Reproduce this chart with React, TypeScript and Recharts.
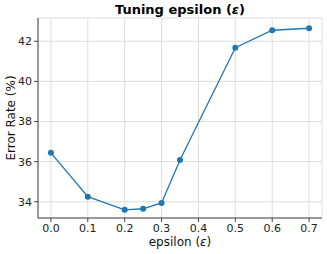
import { CartesianGrid, Label, Line, LineChart, XAxis, YAxis } from 'recharts';

const epsilons = [0.0, 0.1, 0.2, 0.25, 0.3, 0.35, 0.5, 0.6, 0.7];
const errorRates = [36.44, 34.25, 33.6, 33.65, 33.94, 36.08, 41.68, 42.55, 42.65];
const xTicks = [0, 0.1, 0.2, 0.3, 0.4, 0.5, 0.6, 0.7];
const yTicks = [34, 36, 38, 40, 42];

const data = epsilons.map((eps, i) => ({ eps, err: errorRates[i] }));

const FONT = 'DejaVu Sans, sans-serif';
const BLUE = '#1f77b4';
const tickStyle = { fontSize: 11, fill: '#222', fontFamily: FONT };

const XLabel = (props: any) => {
  const { viewBox } = props;
  const cx = viewBox.x + viewBox.width / 2;
  return (
    <text x={cx} y={246} textAnchor="middle" fontSize={12} fill="#111" fontFamily={FONT}>
      epsilon (<tspan fontStyle="italic">ε</tspan>)
    </text>
  );
};

const YLabel = (props: any) => {
  const { viewBox } = props;
  const cy = viewBox.y + viewBox.height / 2;
  return (
    <text
      x={11}
      y={cy}
      transform={`rotate(-90, 11, ${cy})`}
      textAnchor="middle"
      dominantBaseline="central"
      fontSize={12}
      fill="#111"
      fontFamily={FONT}
    >
      Error Rate (%)
    </text>
  );
};

export default function App() {
  return (
    <div style={{ position: 'absolute', left: 0, top: 0, width: 327, height: 254, background: '#fff' }}>
      <div
        style={{
          position: 'absolute',
          left: 38,
          width: 284,
          top: 2,
          textAlign: 'center',
          fontFamily: FONT,
          fontWeight: 'bold',
          fontSize: 13,
          lineHeight: '15px',
          color: '#000',
        }}
      >
        Tuning epsilon (<i>ε</i>)
      </div>
      <LineChart width={327} height={254} data={data} margin={{ top: 18, right: 5, bottom: 0, left: 0 }}>
        <CartesianGrid stroke="#dedede" strokeWidth={1} />
        <XAxis
          dataKey="eps"
          type="number"
          domain={[-0.035, 0.735]}
          allowDataOverflow
          ticks={xTicks}
          tickFormatter={(v: number) => v.toFixed(1)}
          tick={tickStyle}
          tickSize={4}
          tickMargin={2}
          height={36}
          stroke="#444"
        >
          <Label content={XLabel} />
        </XAxis>
        <XAxis xAxisId="top" orientation="top" dataKey="eps" type="number" domain={[-0.035, 0.735]} tick={false} tickLine={false} height={0} stroke="#444" />
        <YAxis
          domain={[33.19, 43.16]}
          allowDataOverflow
          ticks={yTicks}
          tick={tickStyle}
          tickSize={4}
          tickMargin={2}
          width={38}
          stroke="#444"
        >
          <Label content={YLabel} />
        </YAxis>
        <YAxis yAxisId="right" orientation="right" domain={[33.19, 43.16]} tick={false} tickLine={false} width={0} stroke="#444" />
        <Line
          dataKey="err"
          stroke={BLUE}
          strokeWidth={1.3}
          dot={{ r: 3, fill: BLUE, stroke: BLUE, strokeWidth: 0 }}
          isAnimationActive={false}
        />
      </LineChart>
    </div>
  );
}
